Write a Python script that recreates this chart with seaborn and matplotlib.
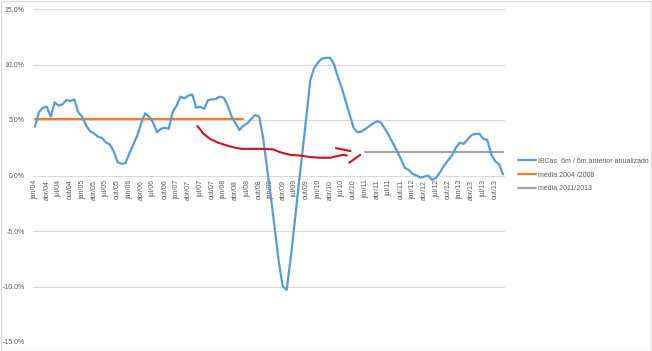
import matplotlib
matplotlib.use("Agg")
import matplotlib.pyplot as plt
import seaborn as sns
import pandas as pd
import numpy as np

# meses jan/04 .. dez/13
meses_pt = ["jan", "fev", "mar", "abr", "mai", "jun", "jul", "ago", "set", "out", "nov", "dez"]
anos = list(range(4, 14))
rotulos = [f"{m}/{a:02d}" for a in anos for m in meses_pt]

ibc = [4.4, 5.7, 6.1, 6.2, 5.3, 6.6, 6.3, 6.4, 6.8, 6.7, 6.85, 5.7,
       5.3, 4.5, 4.0, 3.8, 3.5, 3.4, 3.0, 2.8, 2.2, 1.2, 1.05, 1.1,
       2.0, 2.8, 3.6, 4.7, 5.6, 5.3, 4.8, 3.9, 4.2, 4.3, 4.2, 5.7,
       6.3, 7.1, 6.95, 7.2, 7.3, 6.1, 6.2, 6.0, 6.8, 6.85, 6.9, 7.1,
       7.0, 6.3, 5.3, 4.7, 4.1, 4.5, 4.7, 5.1, 5.45, 5.3, 3.4, 0.7,
       -2.0, -4.9, -7.8, -10.0, -10.3, -7.5, -4.3, -1.0, 2.1, 5.3, 8.6, 9.7,
       10.2, 10.55, 10.6, 10.6, 10.05, 8.9, 7.9, 6.7, 5.5, 4.3, 3.9, 3.95,
       4.2, 4.45, 4.7, 4.9, 4.75, 4.2, 3.6, 2.9, 2.26, 1.5, 0.7, 0.5,
       0.15, 0.0, -0.2, -0.1, 0.0, -0.4, -0.2, 0.3, 0.9, 1.35, 1.8, 2.5,
       2.95, 2.85, 3.25, 3.65, 3.75, 3.75, 3.3, 3.2, 1.9, 1.3, 1.0, 0.1]

media_0408 = 5.13
media_0408_meses = (0, 53)
media_1113 = 2.16
media_1113_meses = (84, 119)

# anotação à mão (curva vermelha com seta)
anot_x = [41.3, 42.8, 44.5, 46.6, 48.8, 50.9, 52.6, 57.3, 60.6, 62.3, 64.9, 67.4,
          70.0, 72.5, 75.1, 76.8, 78.4, 79.3]
anot_y = [4.46, 3.77, 3.3, 2.95, 2.7, 2.5, 2.4, 2.4, 2.35, 2.1, 1.86, 1.8,
          1.66, 1.6, 1.6, 1.75, 1.86, 1.8]
seta1_x = [76.5, 80.2]
seta1_y = [2.47, 2.2]
seta2_x = [79.9, 82.7]
seta2_y = [1.15, 1.86]

df = pd.DataFrame({"mes": np.arange(len(ibc)), "valor": ibc})

sns.set_style("white")
plt.rcParams["font.family"] = ["Liberation Sans", "DejaVu Sans"]

fig = plt.figure(figsize=(6.52, 3.51), dpi=100)
ax = fig.add_axes([33 / 652, 1 - 342 / 351, 472 / 652, 333 / 351])

azul = "#5B9BD5"
laranja = "#ED7D31"
cinza = "#A5A5A5"
vermelho = "#C8161D"
texto = "#595959"

sns.lineplot(data=df, x="mes", y="valor", ax=ax, color=azul, linewidth=1.6,
             label="IBCas  6m / 6m anterior anualizado", zorder=3)
x0, x1 = media_0408_meses
ax.plot([x0, x1], [media_0408, media_0408], color=laranja, linewidth=1.6,
        label="média 2004 /2008", zorder=2)
x0, x1 = media_1113_meses
ax.plot([x0, x1], [media_1113, media_1113], color=cinza, linewidth=1.6,
        label="média 2011/2013", zorder=2)

ax.plot(anot_x, anot_y, color=vermelho, linewidth=1.5, solid_capstyle="round", zorder=4)
ax.plot(seta1_x, seta1_y, color=vermelho, linewidth=1.5, solid_capstyle="round", zorder=4)
ax.plot(seta2_x, seta2_y, color=vermelho, linewidth=1.5, solid_capstyle="round", zorder=4)

# eixo de categorias cruzando em 0 (antes de formatar os ticks)
ax.spines["bottom"].set_position(("data", 0))
for s in ["top", "right", "left", "bottom"]:
    ax.spines[s].set_visible(False)

ax.set_xlim(-0.5, len(ibc) - 0.5)
ax.set_ylim(-15, 15)
yt = np.arange(-15, 16, 5)
ax.set_yticks(yt)
ax.set_yticklabels([f"{v:.1f}%" for v in yt], fontsize=5, color=texto)
ax.yaxis.grid(True, color="#D9D9D9", linewidth=0.8)
ax.set_axisbelow(True)

pos = list(range(0, len(ibc), 3))
ax.set_xticks(pos)
ax.set_xticklabels([rotulos[i] for i in pos], rotation=90, fontsize=5, color=texto)
ax.tick_params(axis="both", length=0)
ax.tick_params(axis="x", pad=3)
ax.tick_params(axis="y", pad=6)
ax.set_xlabel("")
ax.set_ylabel("")

ax.legend_.remove()
h, l = ax.get_legend_handles_labels()
fig.legend(h[:3], l[:3], loc="center left", bbox_to_anchor=(512 / 652, 1 - 175 / 351),
           frameon=False, fontsize=5, handlelength=2.6, labelspacing=1.0,
           handletextpad=0.3, labelcolor=texto)

fig.patches.append(plt.Rectangle((0.001, 0.001), 0.998, 0.997, transform=fig.transFigure,
                                 fill=False, edgecolor="#D9D9D9", linewidth=0.8))

plt.savefig("out.png", dpi=100)
plt.close()
